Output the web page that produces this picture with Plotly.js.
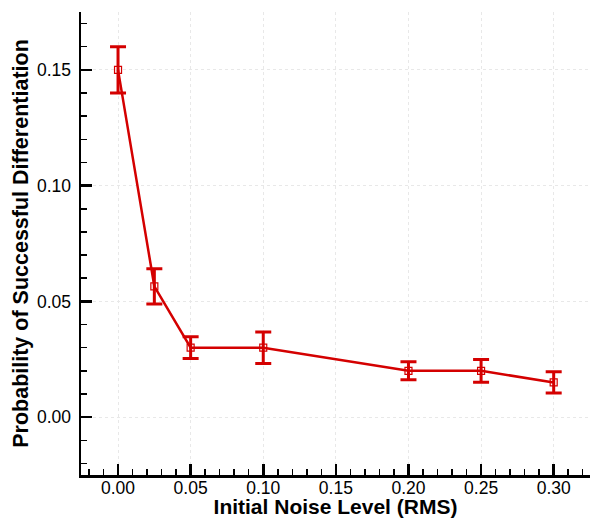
<!DOCTYPE html>
<html>
<head>
<meta charset="utf-8">
<script src="https://cdn.plot.ly/plotly-3.0.1.min.js"></script>
<style>html,body{margin:0;padding:0;background:#fff;}#chart{width:591px;height:518px;}</style>
</head>
<body>
<div id="chart"></div>
<script>
const noiseLevels = [0.00, 0.025, 0.05, 0.10, 0.20, 0.25, 0.30];
const probability = [0.150, 0.0565, 0.030, 0.030, 0.020, 0.020, 0.015];
const errorSize   = [0.010, 0.0076, 0.0047, 0.0068, 0.0039, 0.0049, 0.0046];
const xTickVals = [0.00, 0.05, 0.10, 0.15, 0.20, 0.25, 0.30];
const xTickText = ['0.00', '0.05', '0.10', '0.15', '0.20', '0.25', '0.30'];
const yTickVals = [0.00, 0.05, 0.10, 0.15];
const yTickText = ['0.00', '0.05', '0.10', '0.15'];

const red = '#d40000';
const trace = {
  x: noiseLevels,
  y: probability,
  type: 'scatter',
  mode: 'lines+markers',
  line: {color: red, width: 2.5},
  marker: {symbol: 'square-open', size: 7, color: red, line: {width: 1.2, color: red}},
  error_y: {type: 'data', array: errorSize, visible: true, color: red, thickness: 3, width: 8},
  showlegend: false
};

const font = {family: 'Liberation Sans, Arial, sans-serif', color: '#000'};
const titleFont = {family: 'Liberation Sans, Arial, sans-serif', size: 21, color: '#000', weight: 'bold'};
const layout = {
  width: 591, height: 518,
  margin: {l: 81, r: 1, t: 12, b: 43},
  paper_bgcolor: '#fff', plot_bgcolor: '#fff',
  font: Object.assign({size: 17.5}, font),
  xaxis: {
    range: [-0.0255, 0.325],
    tickvals: xTickVals, ticktext: xTickText,
    ticks: 'inside', ticklen: 11, tickwidth: 2.5, tickcolor: '#000',
    showline: true, linewidth: 2.5, linecolor: '#000',
    showgrid: true, gridcolor: '#e8e8e8', gridwidth: 1, griddash: 'dot',
    zeroline: false,
    minor: {dtick: 0.01, tick0: 0, ticks: 'inside', ticklen: 6, tickwidth: 1.5, tickcolor: '#000', showgrid: false},
    tickfont: Object.assign({size: 17.5}, font),
    ticklabelstandoff: -5,
    title: {text: 'Initial Noise Level (RMS)', font: titleFont, standoff: 0}
  },
  yaxis: {
    range: [-0.025, 0.175],
    tickvals: yTickVals, ticktext: yTickText,
    ticks: 'inside', ticklen: 11, tickwidth: 2.5, tickcolor: '#000',
    showline: true, linewidth: 2.5, linecolor: '#000',
    showgrid: true, gridcolor: '#e8e8e8', gridwidth: 1, griddash: 'dot',
    zeroline: false,
    minor: {dtick: 0.01, tick0: 0, ticks: 'inside', ticklen: 6, tickwidth: 1.5, tickcolor: '#000', showgrid: false},
    tickfont: Object.assign({size: 17.5}, font),
    ticklabelstandoff: 4,
    title: {text: 'Probability of Successful Differentiation', font: Object.assign({}, titleFont, {size: 21.5}), standoff: 3}
  }
};

Plotly.newPlot('chart', [trace], layout, {displayModeBar: false, staticPlot: true});
</script>
</body>
</html>
